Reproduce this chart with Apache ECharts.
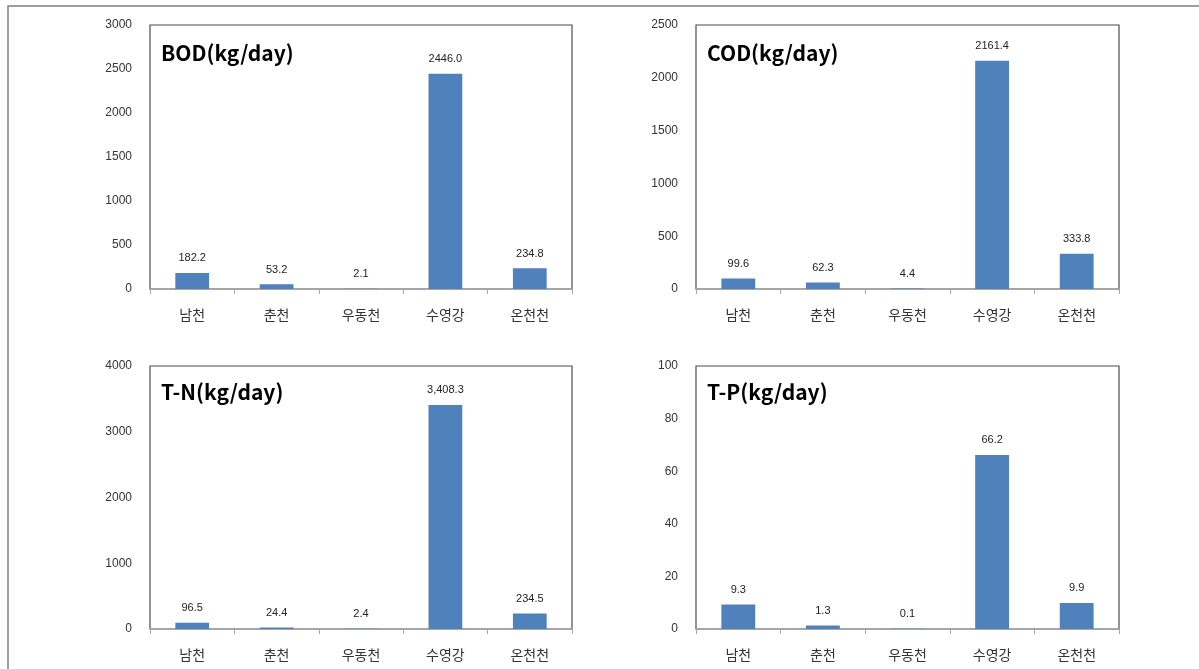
<!DOCTYPE html>
<html><head><meta charset="utf-8">
<script src="https://cdn.jsdelivr.net/npm/echarts@6/dist/echarts.min.js"></script>
<style>html,body{margin:0;padding:0;background:#fff}#c{width:1199px;height:669px}</style>
</head><body><div id="c"></div>
<script>
const categories = ['남천', '춘천', '우동천', '수영강', '온천천'];
const bodValues = [182.2, 53.2, 2.1, 2446.0, 234.8];
const codValues = [99.6, 62.3, 4.4, 2161.4, 333.8];
const tnValues = [96.5, 24.4, 2.4, 3408.3, 234.5];
const tpValues = [9.3, 1.3, 0.1, 66.2, 9.9];
const titles = ['BOD(kg/day)', 'COD(kg/day)', 'T-N(kg/day)', 'T-P(kg/day)'];
const yMax = [3000, 2500, 4000, 100];
const yStep = [500, 500, 1000, 20];
const labelFmt = ['plain', 'plain', 'comma', 'plain'];

const series = [bodValues, codValues, tnValues, tpValues];
const grids = [
  {left: 150, top: 25, width: 422, height: 264},
  {left: 696, top: 25, width: 423, height: 264},
  {left: 150, top: 366, width: 422, height: 263},
  {left: 696, top: 366, width: 423, height: 263}
];
const titlePos = [[161, 43], [707, 43], [161, 382], [707, 382]];
const fnt = '"Noto Sans CJK KR", "Malgun Gothic", sans-serif';

function fmt(v, mode) {
  let s = v.toFixed(1);
  if (mode === 'comma') {
    const parts = s.split('.');
    parts[0] = parts[0].replace(/\B(?=(\d{3})+(?!\d))/g, ',');
    s = parts.join('.');
  }
  return s;
}

const option = {
  animation: false,
  backgroundColor: '#fff',
  graphic: [{
    type: 'rect', silent: true, z: -10,
    shape: {x: 8, y: 6, width: 1300, height: 800},
    style: {fill: 'none', stroke: '#808080', lineWidth: 1.5}
  }],
  title: titles.map((t, i) => ({
    text: t, left: titlePos[i][0], top: titlePos[i][1], padding: 0,
    textStyle: {fontFamily: fnt, fontWeight: 'bold', fontSize: 21, color: '#000'}
  })),
  grid: grids.map(g => Object.assign({show: true, borderColor: '#4d4d4d', borderWidth: 1.2, backgroundColor: '#fff'}, g)),
  xAxis: grids.map((g, i) => ({
    type: 'category', gridIndex: i, data: categories,
    axisLine: {lineStyle: {color: '#a6a6a6', width: 1.5}},
    axisTick: {show: true, length: 5, lineStyle: {color: '#a6a6a6'}},
    axisLabel: {margin: 19, fontFamily: fnt, fontSize: 14, color: '#333'}
  })),
  yAxis: grids.map((g, i) => ({
    type: 'value', gridIndex: i, min: 0, max: yMax[i], interval: yStep[i],
    axisLine: {show: false}, axisTick: {show: false}, splitLine: {show: false},
    axisLabel: {margin: 18, fontFamily: '"Liberation Sans", Arial, sans-serif', fontSize: 12, color: '#333',
      formatter: v => String(v)}
  })),
  series: series.map((d, i) => ({
    type: 'bar', xAxisIndex: i, yAxisIndex: i, data: d, barWidth: '40%',
    itemStyle: {color: '#4f81bd'},
    label: {show: true, position: 'top', distance: 9, fontFamily: '"Liberation Sans", Arial, sans-serif',
      fontSize: 11, color: '#222', formatter: p => fmt(p.value, labelFmt[i])}
  }))
};
echarts.init(document.getElementById('c')).setOption(option);
</script></body></html>
